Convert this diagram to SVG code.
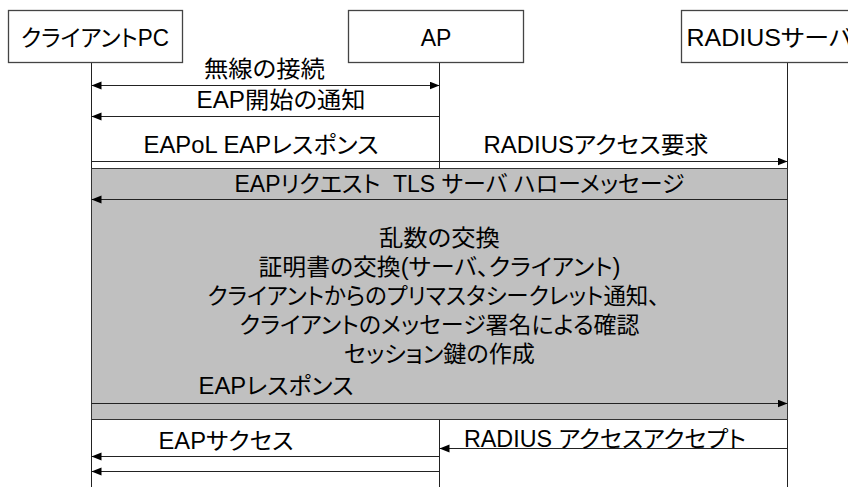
<svg xmlns="http://www.w3.org/2000/svg" width="848" height="487" viewBox="0 0 848 487">
<style>
text{font-family:"Liberation Sans","Noto Sans CJK JP",sans-serif;font-size:23px;fill:#000;font-feature-settings:"palt"}
.box{fill:#fff;stroke:#444;stroke-width:1.3}
.life{stroke:#222;stroke-width:1;fill:none}
.msg{stroke:#222;stroke-width:1;fill:none}
.gray{fill:#c0c0c0;stroke:#333;stroke-width:1}
</style>
<defs>
<marker id="ah" markerUnits="userSpaceOnUse" markerWidth="11" markerHeight="9" refX="10" refY="4" orient="auto-start-reverse" viewBox="0 0 11 9">
<path d="M0,0 L10,4 L0,8 z" fill="#000"/>
</marker>
</defs>
<g id="lifelines">
<line class="life" x1="91.5" y1="62" x2="91.5" y2="487"/>
<line class="life" x1="439.5" y1="62" x2="439.5" y2="487"/>
<line class="life" x1="787.5" y1="62" x2="787.5" y2="487"/>
</g>
<g id="client">
<rect class="box" x="8.5" y="10.5" width="174" height="52"/>
<text x="21" y="45.5" textLength="148" lengthAdjust="spacingAndGlyphs">クライアントPC</text>
</g>
<g id="ap">
<rect class="box" x="348.5" y="10.5" width="175" height="52"/>
<text x="436" y="45.5" text-anchor="middle">AP</text>
</g>
<g id="radius">
<rect class="box" x="681.5" y="10.5" width="200" height="52"/>
<text x="686.5" y="45.5" textLength="166" lengthAdjust="spacingAndGlyphs">RADIUSサーバ</text>
</g>
<g id="exchange">
<rect class="gray" x="91.5" y="168.5" width="696" height="251"/>
<text x="234.5" y="192" textLength="450" lengthAdjust="spacingAndGlyphs" xml:space="preserve">EAPリクエスト  TLS サーバ ハローメッセージ</text>
<text x="439.5" y="246" text-anchor="middle" textLength="121" lengthAdjust="spacingAndGlyphs">乱数の交換</text>
<text x="439.5" y="275" text-anchor="middle" textLength="362" lengthAdjust="spacingAndGlyphs">証明書の交換(サーバ、クライアント)</text>
<text x="433.5" y="304" text-anchor="middle" textLength="452" lengthAdjust="spacingAndGlyphs">クライアントからのプリマスタシークレット通知、</text>
<text x="439.5" y="333" text-anchor="middle" textLength="400" lengthAdjust="spacingAndGlyphs">クライアントのメッセージ署名による確認</text>
<text x="439.5" y="362" text-anchor="middle" textLength="191" lengthAdjust="spacingAndGlyphs">セッション鍵の作成</text>
<text x="198.5" y="394" textLength="155" lengthAdjust="spacingAndGlyphs">EAPレスポンス</text>
</g>
<g id="connectors">
<line class="msg" x1="91.5" y1="85.5" x2="439.5" y2="85.5" marker-start="url(#ah)" marker-end="url(#ah)"/>
<line class="msg" x1="439.5" y1="116.5" x2="91.5" y2="116.5" marker-end="url(#ah)"/>
<line class="msg" x1="91.5" y1="161.5" x2="787.5" y2="161.5" marker-end="url(#ah)"/>
<line class="msg" x1="787.5" y1="199.5" x2="91.5" y2="199.5" marker-end="url(#ah)"/>
<line class="msg" x1="91.5" y1="403.5" x2="787.5" y2="403.5" marker-end="url(#ah)"/>
<line class="msg" x1="787.5" y1="448.5" x2="439.5" y2="448.5" marker-end="url(#ah)"/>
<line class="msg" x1="439.5" y1="456.5" x2="91.5" y2="456.5" marker-end="url(#ah)"/>
<line class="msg" x1="439.5" y1="471.5" x2="91.5" y2="471.5" marker-end="url(#ah)"/>
</g>
<g id="labels">
<text x="204" y="77" textLength="121" lengthAdjust="spacingAndGlyphs">無線の接続</text>
<text x="196.5" y="108" textLength="169" lengthAdjust="spacingAndGlyphs">EAP開始の通知</text>
<text x="143.5" y="153" textLength="235" lengthAdjust="spacingAndGlyphs">EAPoL EAPレスポンス</text>
<text x="483.5" y="153" textLength="225" lengthAdjust="spacingAndGlyphs">RADIUSアクセス要求</text>
<text x="464" y="447" textLength="282" lengthAdjust="spacingAndGlyphs">RADIUS アクセスアクセプト</text>
<text x="158.5" y="449" textLength="135" lengthAdjust="spacingAndGlyphs">EAPサクセス</text>
</g>
</svg>
